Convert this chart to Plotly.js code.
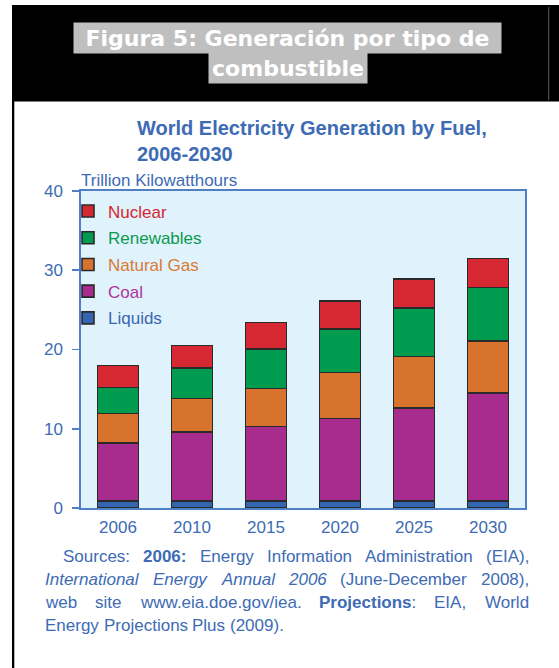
<!DOCTYPE html>
<html>
<head>
<meta charset="utf-8">
<script src="https://cdn.plot.ly/plotly-3.0.1.min.js"></script>
<style>
  html, body { margin: 0; padding: 0; background: #ffffff; }
  #chart { width: 559px; height: 668px; }
</style>
</head>
<body>
<div id="chart"></div>
<script>
// ---------------- DATA ----------------
const years = ['2006', '2010', '2015', '2020', '2025', '2030'];
const liquids    = [0.9, 0.9, 0.9, 0.9, 0.9, 0.9];
const coal       = [7.3, 8.7, 9.4, 10.4, 11.7, 13.6];
const naturalGas = [3.7, 4.2, 4.8, 5.8, 6.5, 6.6];
const renewables = [3.3, 3.9, 5.0, 5.5, 6.1, 6.7];
const nuclear    = [2.8, 2.8, 3.3, 3.5, 3.7, 3.7];
const seriesNames = ['Liquids', 'Coal', 'Natural Gas', 'Renewables', 'Nuclear'];
const yTickVals = [0, 10, 20, 30, 40];

const figureCaption = ['Figura 5: Generación por tipo de', 'combustible'];
const chartTitle = 'World Electricity Generation by Fuel,<br>2006-2030';
const unitLabel = 'Trillion Kilowatthours';
const sourceLines = [
  'Sources: <b>2006:</b> Energy Information Administration (EIA),',
  '<i>International</i> <i>Energy</i> <i>Annual</i> <i>2006</i> (June-December 2008),',
  'web site www.eia.doe.gov/iea. <b>Projections</b>: EIA, World',
  'Energy Projections Plus (2009).'
];

// ---------------- STYLE / GEOMETRY ----------------
const W = 559, H = 668;
const M = { l: 81, r: 34, t: 191, b: 160 };
const PW = W - M.l - M.r, PH = H - M.t - M.b;
const px2x = px => (px - M.l) / PW;
const py2y = py => (H - M.b - py) / PH;

const FONT = 'Liberation Sans, Arial, Helvetica, sans-serif';
const BLUE_TEXT = '#3d6bb4';
const AXIS_BLUE = '#4f7fc5';
const barColors = ['#3465b0', '#a82c8e', '#d7732d', '#009b4e', '#d52832'];
const legendTextColors = ['#3a66b0', '#b03596', '#d97a33', '#0c9a50', '#d8262f'];
const seriesValues = [liquids, coal, naturalGas, renewables, nuclear];

const traces = seriesNames.map((name, i) => ({
  type: 'bar',
  x: years,
  y: seriesValues[i],
  name: '<span style="fill:' + legendTextColors[i] + '">' + name + '</span>',
  legendgroup: 'g' + i,
  legendrank: 1000 - i,
  marker: { color: barColors[i], line: { color: '#2a2a2a', width: 1.6 } },
  hoverinfo: 'y'
}));

// ---------------- ANNOTATIONS ----------------
const annotations = [];

// Figure caption (two highlighted lines)
const capBoxes = [
  { cx: 287.5, cy: 38, w: 427, h: 30 },
  { cx: 287.5, cy: 68, w: 158, h: 30 }
];
figureCaption.forEach((t, i) => {
  const b = capBoxes[i];
  annotations.push({
    text: '<b>' + t + '</b>',
    xref: 'paper', yref: 'paper',
    x: px2x(b.cx), y: py2y(b.cy),
    xanchor: 'center', yanchor: 'middle',
    showarrow: false,
    width: b.w, height: b.h, borderpad: 0,
    bgcolor: '#bfbfbf',
    font: { family: 'DejaVu Sans, sans-serif', size: 22, color: '#ffffff' }
  });
});

// Unit label
annotations.push({
  text: unitLabel,
  xref: 'paper', yref: 'paper',
  x: px2x(79), y: py2y(180),
  xanchor: 'left', yanchor: 'middle',
  showarrow: false,
  font: { family: FONT, size: 17, color: BLUE_TEXT }
});

// Sources paragraph, justified word by word
const srcSize = 17;
const canvas = document.createElement('canvas');
const ctx = canvas.getContext('2d');
function wordStyle(w) {
  if (w.indexOf('<b>') >= 0) return 'bold';
  if (w.indexOf('<i>') >= 0) return 'italic';
  return 'normal';
}
function measure(w) {
  const parts = w.split(/(<b>.*?<\/b>|<i>.*?<\/i>)/).filter(s => s.length);
  let total = 0;
  parts.forEach(p => {
    const st = wordStyle(p);
    const txt = p.replace(/<[^>]+>/g, '');
    ctx.font = (st === 'bold' ? 'bold ' : st === 'italic' ? 'italic ' : '') + srcSize + 'px "Liberation Sans"';
    total += ctx.measureText(txt).width;
  });
  return total;
}
const lineStart = [62, 44, 44, 44];
const lineRight = 528;
const lineCenters = [556, 579, 602, 625];
ctx.font = srcSize + 'px "Liberation Sans"';
const normalSpace = ctx.measureText(' ').width;
sourceLines.forEach((line, li) => {
  const words = line.split(' ');
  const widths = words.map(measure);
  const sum = widths.reduce((a, b) => a + b, 0);
  const justify = li < sourceLines.length - 1;
  const gap = justify ? (lineRight - lineStart[li] - sum) / (words.length - 1) : normalSpace;
  let xpos = lineStart[li];
  words.forEach((w, wi) => {
    annotations.push({
      text: w,
      xref: 'paper', yref: 'paper',
      x: px2x(xpos - 1), y: py2y(lineCenters[li]),
      xanchor: 'left', yanchor: 'middle',
      showarrow: false,
      font: { family: FONT, size: srcSize, color: BLUE_TEXT }
    });
    xpos += widths[wi] + gap;
  });
});

// ---------------- SHAPES (page frame) ----------------
const shapes = [
  { type: 'rect', xref: 'paper', yref: 'paper',
    x0: px2x(12), x1: px2x(560), y0: py2y(101.5), y1: py2y(5),
    fillcolor: '#000000', line: { width: 0 } },
  { type: 'rect', xref: 'paper', yref: 'paper',
    x0: px2x(12), x1: px2x(14.3), y0: py2y(669), y1: py2y(101),
    fillcolor: '#000000', line: { width: 0 } },
  { type: 'line', xref: 'paper', yref: 'paper',
    x0: px2x(548.7), x1: px2x(548.7), y0: py2y(100), y1: py2y(7),
    line: { color: '#5c5c5c', width: 1 } }
];

// ---------------- LAYOUT ----------------
const layout = {
  width: W, height: H,
  margin: M,
  paper_bgcolor: '#ffffff',
  plot_bgcolor: '#e0f2fc',
  barmode: 'stack',
  bargap: 0.446,
  font: { family: FONT, color: BLUE_TEXT },
  title: {
    text: chartTitle,
    xref: 'container', yref: 'container',
    x: 137 / W, xanchor: 'left',
    y: 1 - 135 / H, yanchor: 'top',
    font: { family: FONT, size: 20, color: BLUE_TEXT, weight: 'bold' }
  },
  xaxis: {
    type: 'category',
    showline: true, mirror: true, linecolor: AXIS_BLUE, linewidth: 1.6,
    showgrid: false, zeroline: false,
    ticks: '',
    ticklabelstandoff: 3,
    tickfont: { family: FONT, size: 17, color: BLUE_TEXT }
  },
  yaxis: {
    range: [0, 40],
    tickvals: yTickVals,
    showline: true, mirror: true, linecolor: AXIS_BLUE, linewidth: 1.6,
    showgrid: false, zeroline: false,
    ticks: 'outside', ticklen: 7, tickwidth: 1.6, tickcolor: AXIS_BLUE,
    ticklabelstandoff: 6,
    tickfont: { family: FONT, size: 17, color: BLUE_TEXT }
  },
  legend: {
    x: px2x(68), y: py2y(193.5),
    xanchor: 'left', yanchor: 'top',
    bgcolor: 'rgba(0,0,0,0)',
    traceorder: 'grouped',
    tracegroupgap: 1.6,
    font: { family: FONT, size: 17, color: BLUE_TEXT }
  },
  showlegend: true,
  annotations: annotations,
  shapes: shapes
};

Plotly.newPlot('chart', traces, layout, { displayModeBar: false, staticPlot: true });
</script>
</body>
</html>
